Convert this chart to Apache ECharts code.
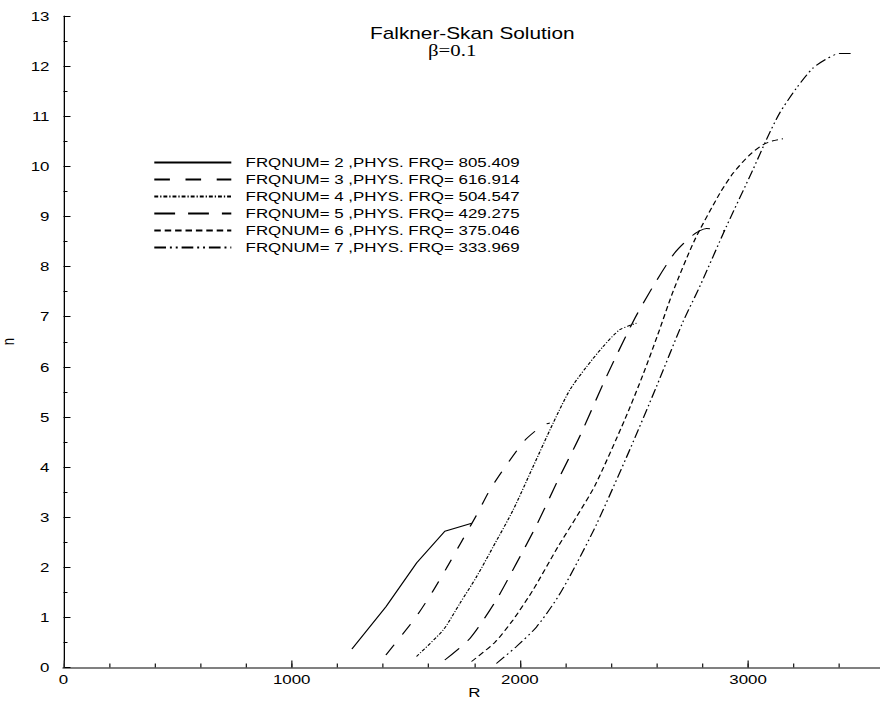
<!DOCTYPE html>
<html>
<head>
<meta charset="utf-8">
<title>Falkner-Skan Solution</title>
<script src="https://cdn.jsdelivr.net/npm/echarts@6/dist/echarts.min.js"></script>
<style>
  html, body { margin: 0; padding: 0; background: #fff; overflow: hidden; }
  #chart { height: 701px; transform-origin: 0 0; }
</style>
</head>
<body>
<div id="chart"></div>
<script>
// Neutral curves n(R) for the Falkner-Skan profile, beta = 0.1
const freqNums = [2, 3, 4, 5, 6, 7];
const physFreqs = ['805.409', '616.914', '504.547', '429.275', '375.046', '333.969'];

const R2 = [1264, 1413, 1548, 1671, 1789];
const n2 = [0.37, 1.21, 2.09, 2.72, 2.88];

const R3 = [1413, 1540, 1613, 1678, 1744, 1810, 1868, 1941, 2021, 2073, 2102, 2131];
const n3 = [0.25, 0.98, 1.48, 1.98, 2.51, 3.04, 3.54, 4.04, 4.53, 4.74, 4.84, 4.88];

const R4 = [1547, 1664, 1737, 1810, 1883, 1970, 2058, 2145, 2219, 2292, 2364, 2438, 2511];
const n4 = [0.22, 0.75, 1.28, 1.81, 2.41, 3.14, 4.01, 4.87, 5.54, 6.00, 6.40, 6.74, 6.87];

const R5 = [1671, 1781, 1897, 1985, 2073, 2165, 2262, 2379, 2496, 2583, 2678, 2759, 2818, 2898];
const n5 = [0.15, 0.58, 1.35, 2.08, 2.84, 3.72, 4.61, 5.80, 6.90, 7.60, 8.27, 8.63, 8.76, 8.71];

const R6 = [1788, 1890, 1970, 2058, 2167, 2250, 2330, 2460, 2540, 2605, 2671, 2766, 2876, 2934, 3007, 3065, 3109, 3153];
const n6 = [0.12, 0.50, 0.95, 1.55, 2.41, 3.02, 3.64, 4.95, 5.85, 6.65, 7.50, 8.53, 9.46, 9.86, 10.23, 10.43, 10.51, 10.55];

const R7 = [1897, 1985, 2073, 2167, 2240, 2335, 2481, 2598, 2715, 2788, 2905, 3021, 3080, 3138, 3212, 3284, 3350, 3401, 3459];
const n7 = [0.08, 0.42, 0.81, 1.41, 2.00, 2.85, 4.34, 5.60, 6.90, 7.60, 8.80, 9.93, 10.53, 11.06, 11.56, 11.96, 12.16, 12.25, 12.25];

const curvesR = [R2, R3, R4, R5, R6, R7];
const curvesN = [n2, n3, n4, n5, n6, n7];

// Tecplot-like line patterns, one per frequency
const dashPatterns = [
  'solid',
  [12, 12],
  [3, 1.5, 1, 1.5],
  [16, 10],
  [5, 3],
  [9, 3, 1.5, 3, 1.5, 3]
];

// The plot is drawn narrow and stretched horizontally
const S = 1.3;
const CW = 880 / S;
const X = px => px / S;

const SANS = 'Liberation Sans, Arial, Helvetica, sans-serif';
const SERIF = 'Liberation Serif, Times New Roman, serif';

const el = document.getElementById('chart');
el.style.width = CW + 'px';
el.style.transform = 'scaleX(' + S + ')';

const names = freqNums.map((f, i) => 'FRQNUM= ' + f + ' ,PHYS. FRQ= ' + physFreqs[i]);

const series = names.map((name, i) => ({
  name: name,
  type: 'line',
  xAxisIndex: 0,
  data: curvesR[i].map((r, k) => [r, curvesN[i][k]]),
  showSymbol: false,
  symbol: 'none',
  smooth: i === 0 ? false : 0.25,
  lineStyle: { color: '#000', width: 1, type: dashPatterns[i] },
  itemStyle: { color: '#000' },
  emphasis: { disabled: true },
  silent: true
}));

const R_MAX = 3600;
const labelFont = { fontFamily: SANS, fontSize: 13, color: '#000' };

const chart = echarts.init(el, null, { renderer: 'svg' });
chart.setOption({
  animation: false,
  backgroundColor: '#fff',
  title: [
    {
      text: 'Falkner-Skan Solution',
      left: X(370), top: 25, padding: 0,
      textStyle: { fontFamily: SANS, fontSize: 16, fontWeight: 'normal', color: '#000' }
    },
    {
      text: 'β=0.1',
      left: X(428), top: 42, padding: 0,
      textStyle: { fontFamily: SERIF, fontSize: 16, fontWeight: 'normal', color: '#000' }
    }
  ],
  legend: {
    orient: 'vertical',
    left: X(153), top: 154,
    padding: 0,
    itemGap: 0,
    itemWidth: X(77),
    itemHeight: 17,
    selectedMode: false,
    itemStyle: { opacity: 0, borderWidth: 0 },
    textStyle: { ...labelFont, lineHeight: 17, padding: [0, 0, 0, 6] },
    data: names
  },
  grid: {
    left: X(63.5), top: 16, width: X(821.5), height: 651.5,
    containLabel: false, outerBoundsMode: 'none'
  },
  xAxis: [
    {
      // main R axis: labelled ticks every 1000
      type: 'value', min: 0, max: R_MAX, interval: 1000, position: 'bottom',
      name: 'R', nameLocation: 'middle', nameGap: 18, nameMoveOverlap: false,
      nameTextStyle: labelFont,
      axisLine: { lineStyle: { color: '#808080', width: 2 } },
      axisTick: { inside: true, length: 7, lineStyle: { color: '#222', width: 1 } },
      axisLabel: { ...labelFont, margin: 5, showMaxLabel: false, formatter: v => String(v) },
      splitLine: { show: false }
    },
    {
      // minor ticks every 200 on the same baseline
      type: 'value', min: 0, max: R_MAX, interval: 200, position: 'bottom',
      axisLine: { show: false },
      axisTick: { inside: true, length: 4, lineStyle: { color: '#222', width: 1 } },
      axisLabel: { show: false },
      splitLine: { show: false }
    }
  ],
  yAxis: {
    type: 'value', min: 0, max: 13, interval: 1,
    name: 'n', nameLocation: 'middle', nameGap: X(35), nameRotate: 90,
    nameTextStyle: labelFont,
    axisLine: { lineStyle: { color: '#000', width: 1 } },
    axisTick: { inside: true, length: X(7), lineStyle: { color: '#000', width: 1 } },
    minorTick: { show: true, splitNumber: 2, length: X(4), lineStyle: { color: '#000', width: 1 } },
    axisLabel: { ...labelFont, margin: X(14), formatter: v => String(v) },
    splitLine: { show: false }, minorSplitLine: { show: false }
  },
  series: series
});
</script>
</body>
</html>
